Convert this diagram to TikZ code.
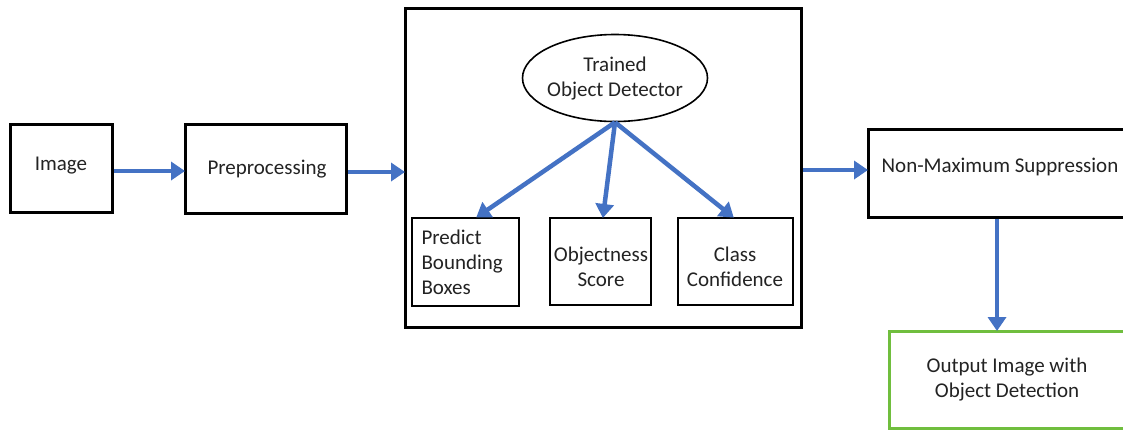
\documentclass[tikz,border=0pt]{standalone}
\usepackage{fontspec}
\setmainfont{Carlito}
\usetikzlibrary{shapes.geometric,arrows.meta}
\definecolor{flowblue}{RGB}{68,114,196}
\definecolor{outgreen}{RGB}{112,190,62}
\definecolor{txtgray}{RGB}{35,35,35}
\tikzset{
  blockbox/.style={draw,line width=3pt,inner sep=0pt},
  smallbox/.style={draw,line width=2pt,inner sep=0pt},
  flow/.style={draw=flowblue,line width=4.5pt,-{Triangle[length=14pt,width=18pt]},shorten >=-1pt},
  lbl/.style={font=\fontsize{21}{25}\selectfont,align=center,text=txtgray}
}
\begin{document}
\begin{tikzpicture}[x=1pt,y=-1pt]
	\clip (0,0) rectangle (1123,429);
	\fill[white] (0,0) rectangle (1123,429);
	% boxes
	\node[blockbox,minimum width=102pt,minimum height=88pt] (img) at (61,168) {};
	\node[lbl] at (61,166) {Image};
	\node[blockbox,minimum width=161pt,minimum height=89pt] (pre) at (266,169) {};
	\node[lbl] at (267,169) {Preprocessing};
	\node[blockbox,minimum width=396pt,minimum height=319pt] (det) at (603.5,167.5) {};
	\node[draw,ellipse,line width=1.6pt,minimum width=185pt,minimum height=87pt,inner sep=0pt] (tod) at (615,78) {};
	\node[lbl] at (615,79) {Trained\\Object Detector};
	\node[smallbox,minimum width=107pt,minimum height=88pt] (pbb) at (465.5,262) {};
	\node[lbl,align=left,anchor=west] at (418,262) {Predict\\Bounding\\Boxes};
	\node[smallbox,minimum width=101pt,minimum height=87pt] (obj) at (600.5,261.5) {};
	\node[lbl] at (601,267) {Objectness\\Score};
	\node[smallbox,minimum width=115pt,minimum height=87pt] (cls) at (735.5,261.5) {};
	\node[lbl] at (735,267) {Class\\Confidence};
	\node[blockbox,anchor=north west,minimum width=280pt,minimum height=88pt] (nms) at (867,128) {};
	\node[lbl] at (1000,167) {Non-Maximum Suppression};
	\node[draw=outgreen,line width=2.5pt,anchor=north west,minimum width=260pt,minimum height=97pt,inner sep=0pt] (out) at (888,330) {};
	\node[lbl] at (1007,379) {Output Image with\\Object Detection};
	% arrows
	\draw[flow] (img.east |- 0,171) -- (pre.west |- 0,171);
	\draw[flow] (pre.east |- 0,172) -- (det.west |- 0,172);
	\draw[flow] (det.east |- 0,170) -- (nms.west |- 0,170);
	\draw[flow] (nms.south -| 997,0) -- (out.north -| 997,0);
	\draw[flow] (tod.south) -- (pbb.north -| 477,0);
	\draw[flow] (tod.south) -- (obj.north -| 603,0);
	\draw[flow] (tod.south) -- (cls.north -| 733,0);
\end{tikzpicture}
\end{document}
